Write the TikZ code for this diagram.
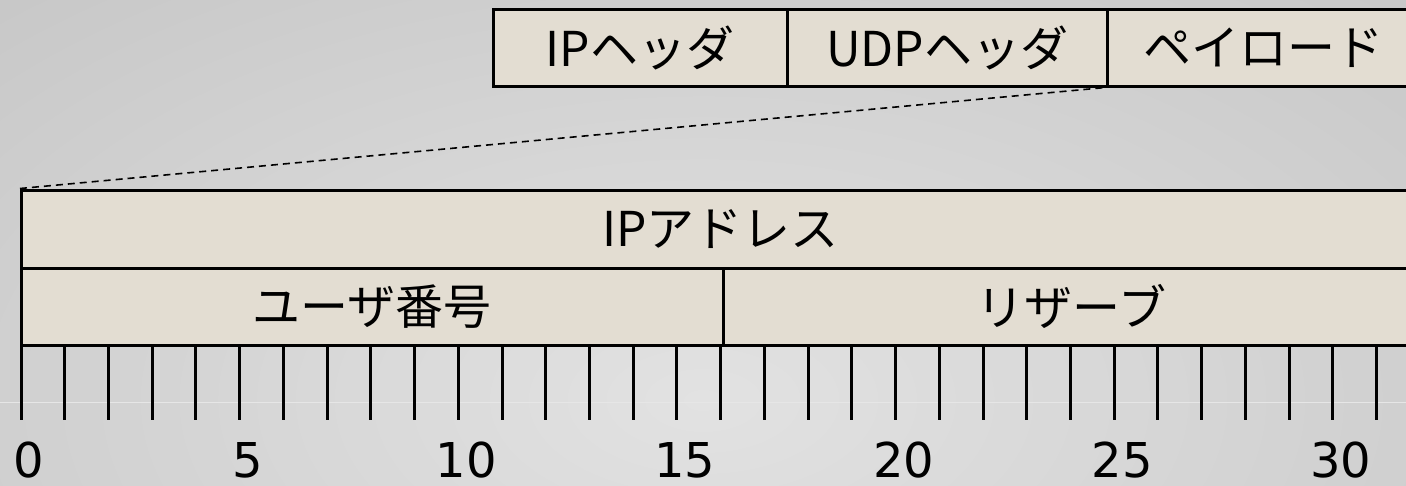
\documentclass[tikz,border=0pt]{standalone}
\usepackage{fontspec}
\setmainfont{DejaVu Sans}
\newfontfamily\jp{Noto Sans CJK JP}
\definecolor{bgin}{HTML}{E2E2E2}
\definecolor{bgout}{HTML}{A4A4A4}
\definecolor{cellfill}{HTML}{E3DDD2}
\definecolor{faint}{HTML}{E6E6E6}
\pgfdeclareradialshading{bgshade}{\pgfpoint{0bp}{0bp}}{color(0bp)=(bgin); color(50bp)=(bgout)}
\tikzset{
  cell/.style={draw=black, line width=3pt, fill=cellfill, rectangle, inner sep=0pt,
    font=\jp\fontsize{48}{48}\selectfont},
  tick/.style={line width=3pt, draw=black},
  bitlabel/.style={inner sep=0pt, anchor=base, font=\fontsize{48}{48}\selectfont},
  zoomline/.style={dashed, line width=1.6pt, dash pattern=on 7pt off 5pt}
}
\begin{document}
\begin{tikzpicture}[x=1pt, y=-1pt]
\useasboundingbox (0,0) rectangle (1406,485);
\clip (0,0) rectangle (1406,485);
\shade[shading=bgshade] (-500,-250) rectangle (1906,1050);
\draw[faint, line width=1pt] (0,402) -- (1406,402);
% packet
\node[cell, minimum width=294pt, minimum height=77pt] (iph) at (640,47.5) {IPヘッダ};
\node[cell, minimum width=320pt, minimum height=77pt] (udph) at (947,47.5) {UDPヘッダ};
\node[cell, minimum width=313pt, minimum height=77pt] (payload) at (1263.5,47.5) {ペイロード};
% payload format
\node[cell, minimum width=1398.5pt, minimum height=78pt] (ipaddr) at (720.75,229) {IPアドレス};
\node[cell, minimum width=701.5pt, minimum height=77pt] (user) at (372.25,306.5) {ユーザ番号};
\node[cell, minimum width=697pt, minimum height=77pt] (resv) at (1071.5,306.5) {リザーブ};
% zoom line
\draw[zoomline] (ipaddr.north west) -- (payload.south west);
% ticks
\foreach \i in {0,...,31} {
  \draw[tick] ({21+\i*43.73},345) -- ({21+\i*43.73},420);
}
\foreach \i in {0,5,...,30} {
  \node[bitlabel] (lab\i) at ({29+\i*43.73},477) {\i};
}
\end{tikzpicture}
\end{document}
